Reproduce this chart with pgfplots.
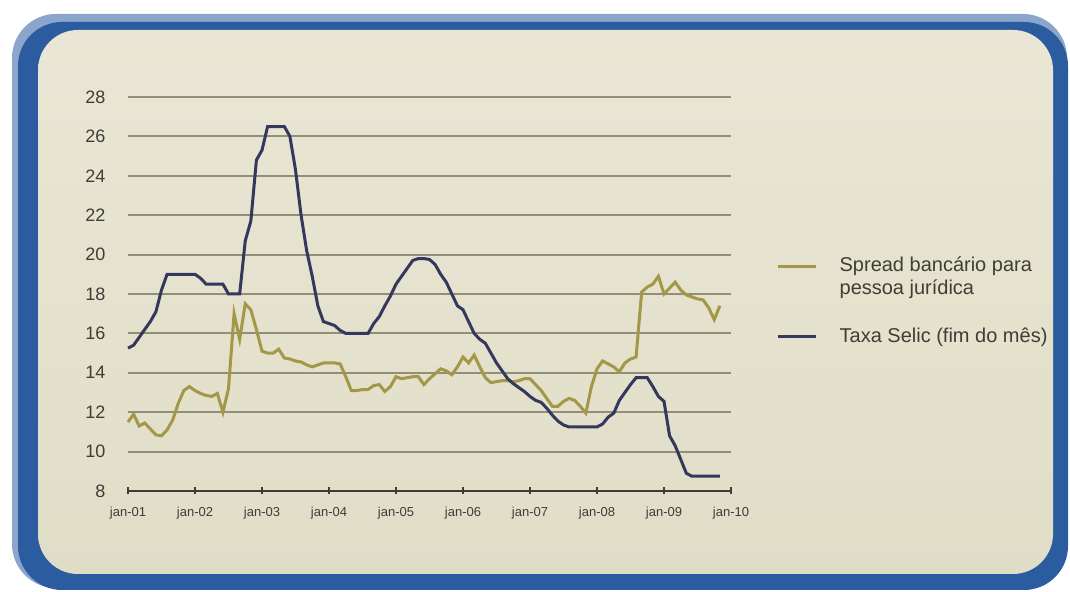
\documentclass[border=0pt]{standalone}
\usepackage{fontspec}
\setmainfont{Liberation Sans}
\usepackage{pgfplots}
\pgfplotsset{compat=1.18}

\definecolor{spread}{RGB}{163,152,72}
\definecolor{selic}{RGB}{52,56,92}
\definecolor{papel}{RGB}{224,221,199}
\definecolor{papeltop}{RGB}{233,230,213}
\definecolor{moldura}{RGB}{44,92,160}
\definecolor{grade}{RGB}{146,142,122}
\definecolor{texto}{RGB}{62,62,55}

\pgfplotsset{
  legup/.style={legend image code/.code={\draw[##1] (0pt,5.5pt) -- (19pt,5.5pt); \path (28pt,-5.5pt);}},
}

\begin{document}
\begin{tikzpicture}
% 1 px of the reference = 0.5pt
\path[use as bounding box] (0,0) rectangle (535pt,296pt);
\fill[moldura!55!white, rounded corners=22pt] (6pt,2pt) rectangle (533.5pt,289pt);
\fill[moldura, rounded corners=22pt] (9pt,1pt) rectangle (534pt,285pt);
\shade[top color=papeltop, bottom color=papel, rounded corners=20pt] (19pt,9pt) rectangle (526.5pt,281pt);

\begin{axis}[
  scale only axis,
  width=301.5pt, height=197pt,
  at={(64pt,50.5pt)}, anchor=south west,
  xmin=0, xmax=108,
  ymin=8, ymax=28,
  xtick={0,12,...,108},
  xticklabels={jan-01,jan-02,jan-03,jan-04,jan-05,jan-06,jan-07,jan-08,jan-09,jan-10},
  ytick={8,10,...,28},
  axis x line*=bottom,
  axis y line*=left,
  y axis line style={draw=none},
  ytick style={draw=none},
  x axis line style={texto, line width=1pt, -},
  xtick style={texto, line width=0.8pt},
  tick align=center,
  major tick length=3.5pt,
  ymajorgrids,
  grid style={grade, line width=1pt},
  /pgf/number format/assume math mode=true,
  xticklabel style={font=\fontsize{6.5}{7}\selectfont, text=texto, yshift=-3pt},
  yticklabel style={font=\fontsize{9}{10}\selectfont, text=texto, xshift=-6pt},
  clip=false,
  legend style={at={(1.075,0.605)}, anchor=north west, draw=none, fill=none,
    font=\fontsize{10}{11.5}\selectfont, text=texto, inner sep=0pt,
    row sep=11pt, cells={align=left, anchor=west}},
  legend image code/.code={\draw[#1] (0pt,0pt) -- (19pt,0pt); \path (28pt,0pt);},
]
\addplot[spread, line width=1.5pt, legup] coordinates {
(0,11.5) (1,11.9) (2,11.3) (3,11.45) (4,11.15) (5,10.85) (6,10.8) (7,11.1)
(8,11.6) (9,12.45) (10,13.1) (11,13.3) (12,13.1) (13,12.95) (14,12.85) (15,12.8)
(16,12.95) (17,12.0) (18,13.2) (19,17.0) (20,15.7) (21,17.5) (22,17.2) (23,16.2)
(24,15.1) (25,15.0) (26,15.0) (27,15.2) (28,14.75) (29,14.7) (30,14.6) (31,14.55)
(32,14.4) (33,14.3) (34,14.4) (35,14.5) (36,14.5) (37,14.5) (38,14.45) (39,13.8)
(40,13.1) (41,13.1) (42,13.15) (43,13.15) (44,13.35) (45,13.4) (46,13.05) (47,13.3)
(48,13.8) (49,13.7) (50,13.75) (51,13.8) (52,13.8) (53,13.4) (54,13.7) (55,13.95)
(56,14.2) (57,14.1) (58,13.9) (59,14.3) (60,14.8) (61,14.5) (62,14.9) (63,14.3)
(64,13.75) (65,13.5) (66,13.55) (67,13.6) (68,13.6) (69,13.55) (70,13.6) (71,13.7)
(72,13.7) (73,13.4) (74,13.1) (75,12.7) (76,12.3) (77,12.3) (78,12.55) (79,12.7)
(80,12.6) (81,12.3) (82,11.95) (83,13.3) (84,14.2) (85,14.6) (86,14.45) (87,14.3)
(88,14.05) (89,14.5) (90,14.7) (91,14.8) (92,18.1) (93,18.35) (94,18.5) (95,18.9)
(96,18.0) (97,18.3) (98,18.6) (99,18.2) (100,17.95) (101,17.85) (102,17.75) (103,17.7)
(104,17.3) (105,16.7) (106,17.4)
};
\addlegendentry{Spread bancário para\\pessoa jurídica}

\addplot[selic, line width=1.5pt] coordinates {
(0,15.25) (1,15.4) (2,15.8) (3,16.2) (4,16.6) (5,17.1) (6,18.2) (7,19.0)
(8,19.0) (9,19.0) (10,19.0) (11,19.0) (12,19.0) (13,18.8) (14,18.5) (15,18.5)
(16,18.5) (17,18.5) (18,18.0) (19,18.0) (20,18.0) (21,20.7) (22,21.7) (23,24.8)
(24,25.3) (25,26.5) (26,26.5) (27,26.5) (28,26.5) (29,26.0) (30,24.3) (31,22.0)
(32,20.2) (33,18.9) (34,17.4) (35,16.6) (36,16.5) (37,16.4) (38,16.15) (39,16.0)
(40,16.0) (41,16.0) (42,16.0) (43,16.0) (44,16.5) (45,16.85) (46,17.4) (47,17.9)
(48,18.5) (49,18.9) (50,19.3) (51,19.7) (52,19.8) (53,19.8) (54,19.75) (55,19.5)
(56,19.0) (57,18.6) (58,18.0) (59,17.4) (60,17.2) (61,16.6) (62,16.0) (63,15.7)
(64,15.5) (65,15.0) (66,14.5) (67,14.1) (68,13.7) (69,13.45) (70,13.25) (71,13.05)
(72,12.8) (73,12.6) (74,12.5) (75,12.2) (76,11.85) (77,11.55) (78,11.35) (79,11.25)
(80,11.25) (81,11.25) (82,11.25) (83,11.25) (84,11.25) (85,11.4) (86,11.75) (87,11.95)
(88,12.6) (89,13.0) (90,13.4) (91,13.75) (92,13.75) (93,13.75) (94,13.3) (95,12.8)
(96,12.55) (97,10.8) (98,10.3) (99,9.6) (100,8.9) (101,8.75) (102,8.75) (103,8.75)
(104,8.75) (105,8.75) (106,8.75)
};
\addlegendentry{Taxa Selic (fim do mês)}
\end{axis}
\end{tikzpicture}
\end{document}
